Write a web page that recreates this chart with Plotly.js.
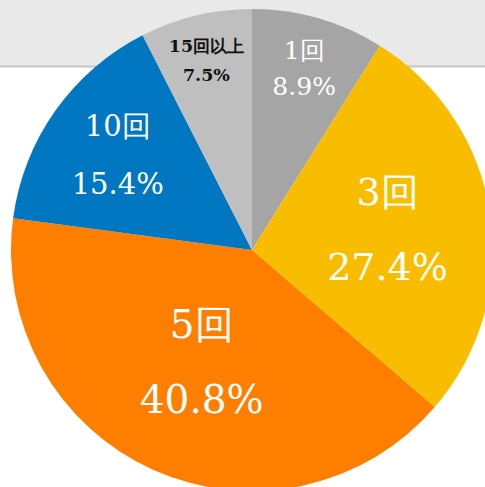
<!DOCTYPE html>
<html><head><meta charset="utf-8">
<script src="https://cdn.plot.ly/plotly-3.0.1.min.js"></script>
<style>html,body{margin:0;padding:0;overflow:hidden;background:#fff;width:485px;height:487px}</style>
</head><body><div id="chart"></div>
<script>
const labels = ["1回", "3回", "5回", "10回", "15回以上"];
const values = [8.9, 27.4, 40.8, 15.4, 7.5];
const colors = ["#a5a5a5", "#f9bd00", "#fe7f00", "#0077c0", "#bfbfbf"];
const textColors = ["#ffffff", "#ffffff", "#ffffff", "#ffffff", "#111111"];
// line-pitch font size (controls spacing) and glyph size per slice
const lineSizes = [27, 58, 58, 44, 23];
const glyphSizes = [25, 38, 39, 29, 18];

const templates = labels.map((l, i) => {
  const open = '<span style="font-size:' + glyphSizes[i] + 'px">';
  const b0 = i === 4 ? '<b>' : '', b1 = i === 4 ? '</b>' : '';
  return open + b0 + '%{label}' + b1 + '</span><br>' + open + b0 + '%{value:.1f}%' + b1 + '</span>';
});

const trace = {
  type: "pie",
  labels: labels,
  values: values,
  sort: false,
  direction: "clockwise",
  rotation: 0,
  marker: {colors: colors, line: {width: 0}},
  texttemplate: templates,
  textinfo: "text",
  textposition: "inside",
  insidetextorientation: "horizontal",
  textfont: {family: "DejaVu Serif", color: textColors, size: lineSizes},
  hoverinfo: "label+value",
  showlegend: false
};
const layout = {
  width: 493, height: 491,
  margin: {l: 11, r: 0, t: 9, b: 0},
  paper_bgcolor: "#ffffff",
  font: {family: "DejaVu Serif"},
  showlegend: false,
  shapes: [
    {type: "rect", xref: "paper", yref: "paper", x0: -0.1, x1: 1.1, y0: 0.8817, y1: 1.05, fillcolor: "#e9e9e9", line: {width: 0}, layer: "below"},
    {type: "line", xref: "paper", yref: "paper", x0: -0.1, x1: 1.1, y0: 0.8807, y1: 0.8807, line: {color: "#c6c6c6", width: 2}, layer: "below"}
  ]
};
Plotly.newPlot("chart", [trace], layout, {displayModeBar: false, staticPlot: true});
</script></body></html>
